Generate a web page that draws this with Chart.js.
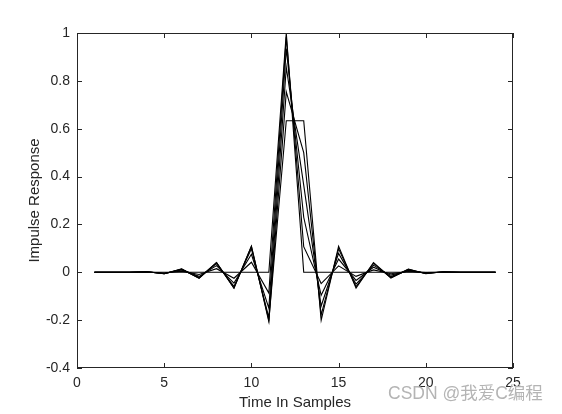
<!DOCTYPE html>
<html>
<head>
<meta charset="utf-8">
<script src="https://cdn.jsdelivr.net/npm/chart.js@4.4.0/dist/chart.umd.min.js"></script>
<style>
    body { margin: 0; background: #fff; }
    #wrap { position: relative; width: 562px; height: 414px; }
    #mark {
        position: absolute; left: 388px; top: 383px;
        font-family: "Liberation Sans", "Noto Sans CJK SC", sans-serif;
        font-size: 17.5px; line-height: 20px; color: #b4b4b4; white-space: nowrap;
    }
</style>
</head>
<body>
<div id="wrap">
    <canvas id="irChart" width="562" height="414"></canvas>
    <div id="mark">CSDN @我爱C编程</div>
</div>
<script>
// sample index
const samples = [1, 2, 3, 4, 5, 6, 7, 8, 9, 10, 11, 12, 13, 14, 15, 16, 17, 18, 19, 20, 21, 22, 23, 24];

// impulse responses (fractional delay 0 .. 0.5)
const delay00 = [0, 0, 0, 0, 0, 0, 0, 0, 0, 0, 0, 1, 0, 0, 0, 0, 0, 0, 0, 0, 0, 0, 0, 0];
const delay01 = [0, 0, 0, 0.001, -0.003, 0.005, -0.009, 0.015, -0.025, 0.042, -0.087, 0.983, 0.107, -0.047, 0.027, -0.017, 0.010, -0.006, 0.003, -0.001, 0, 0, 0, 0];
const delay02 = [0, 0, 0, 0.002, -0.005, 0.010, -0.017, 0.028, -0.045, 0.075, -0.150, 0.935, 0.230, -0.096, 0.055, -0.034, 0.021, -0.012, 0.006, -0.003, 0.001, 0, 0, 0];
const delay03 = [0, 0, 0, 0.002, -0.006, 0.012, -0.022, 0.036, -0.059, 0.098, -0.190, 0.857, 0.364, -0.141, 0.079, -0.049, 0.030, -0.018, 0.009, -0.004, 0.001, 0, 0, 0];
const delay04 = [0, 0, 0, 0.002, -0.006, 0.014, -0.025, 0.041, -0.066, 0.109, -0.206, 0.754, 0.500, -0.178, 0.098, -0.060, 0.037, -0.022, 0.012, -0.005, 0.002, 0, 0, 0];
const delay05 = [0, 0, 0, 0.002, -0.006, 0.013, -0.024, 0.041, -0.066, 0.109, -0.201, 0.633, 0.633, -0.201, 0.109, -0.066, 0.041, -0.024, 0.013, -0.006, 0.002, 0, 0, 0];

const xTicks = [0, 5, 10, 15, 20, 25];
const yTicks = [-0.4, -0.2, 0, 0.2, 0.4, 0.6, 0.8, 1];

const allSeries = [delay00, delay01, delay02, delay03, delay04, delay05];

function toPoints(values) {
    return values.map((v, i) => ({ x: samples[i], y: v }));
}

const tickFont = { family: '"Liberation Sans", Arial, sans-serif', size: 14 };
const titleFont = { family: '"Liberation Sans", Arial, sans-serif', size: 15 };
const inkColor = '#262626';

// matlab style box with inward ticks on all four sides
const boxPlugin = {
    id: 'box',
    afterDraw(chart) {
        const ctx = chart.ctx;
        const a = chart.chartArea;
        const xs = chart.scales.x;
        const ys = chart.scales.y;
        const len = 5;
        ctx.save();
        ctx.strokeStyle = inkColor;
        ctx.lineWidth = 1;
        ctx.strokeRect(a.left + 0.5, a.top + 0.5, a.right - a.left - 1, a.bottom - a.top - 1);
        ctx.beginPath();
        xTicks.forEach(t => {
            const px = Math.round(xs.getPixelForValue(t)) + 0.5;
            ctx.moveTo(px, a.bottom);
            ctx.lineTo(px, a.bottom - len);
            ctx.moveTo(px, a.top);
            ctx.lineTo(px, a.top + len);
        });
        yTicks.forEach(t => {
            const py = Math.round(ys.getPixelForValue(t)) + 0.5;
            ctx.moveTo(a.left, py);
            ctx.lineTo(a.left + len, py);
            ctx.moveTo(a.right, py);
            ctx.lineTo(a.right - len, py);
        });
        ctx.stroke();
        ctx.restore();
    }
};

const ctx = document.getElementById('irChart').getContext('2d');
new Chart(ctx, {
    type: 'line',
    data: {
        datasets: allSeries.map(s => ({
            data: toPoints(s),
            borderColor: '#000',
            borderWidth: 1.1,
            pointRadius: 0,
            tension: 0,
            fill: false
        }))
    },
    options: {
        responsive: false,
        animation: false,
        layout: { padding: { left: 0, right: 49, top: 33, bottom: 0 } },
        plugins: {
            legend: { display: false },
            tooltip: { enabled: false }
        },
        scales: {
            x: {
                type: 'linear',
                min: 0,
                max: 25,
                afterBuildTicks: scale => { scale.ticks = xTicks.map(v => ({ value: v })); },
                afterFit: scale => { scale.height = 414 - 33 - 335; },
                grid: { display: false, drawTicks: false },
                border: { display: false },
                ticks: { font: tickFont, color: inkColor, padding: 7, maxRotation: 0 },
                title: { display: true, text: 'Time In Samples', font: titleFont, color: inkColor, padding: { top: 0, bottom: 2 } }
            },
            y: {
                type: 'linear',
                min: -0.4,
                max: 1,
                afterBuildTicks: scale => { scale.ticks = yTicks.map(v => ({ value: v })); },
                afterFit: scale => { scale.width = 77; },
                grid: { display: false, drawTicks: false },
                border: { display: false },
                ticks: { font: tickFont, color: inkColor, padding: 7, callback: v => String(Math.round(v * 10) / 10) },
                title: { display: true, text: 'Impulse Response', font: titleFont, color: inkColor, padding: { top: 26, bottom: 0 } }
            }
        }
    },
    plugins: [boxPlugin]
});
</script>
</body>
</html>
